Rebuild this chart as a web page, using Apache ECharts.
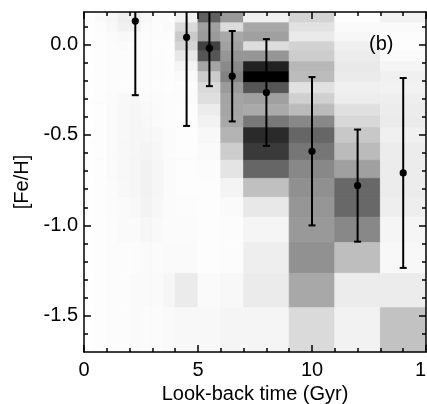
<!DOCTYPE html>
<html><head><meta charset="utf-8">
<script src="https://cdn.jsdelivr.net/npm/echarts@6/dist/echarts.min.js"></script>
<style>html,body{margin:0;padding:0;background:#fff}#c{width:427px;height:404px}</style>
</head><body><div id="c"></div>
<script>
// Bin edges (look-back time, Gyr) and [Fe/H] bin edges (top -> bottom)
const ageEdges = [0, 0.5, 1, 1.5, 2, 2.5, 3, 3.5, 4, 5, 6, 7, 9, 11, 13, 15];
const fehEdges = [0.18, 0.12, 0.07, 0.015, -0.035, -0.095, -0.15, -0.21, -0.27, -0.33,
                  -0.395, -0.46, -0.545, -0.64, -0.74, -0.845, -0.955, -1.095, -1.265, -1.455, -1.70];
// Relative density (0..255) per age bin, rows from top [Fe/H] bin to bottom
const density = [
  [1,1,1,1,1,1,1,1,1,1,1,1,1,1,1,1,1,1,1,1],
  [5,3,2,2,2,2,2,2,2,2,2,2,2,2,2,2,2,2,2,2],
  [9,7,4,3,3,3,3,3,4,5,5,5,5,5,4,4,3,3,3,3],
  [17,15,7,4,3,3,3,3,7,7,7,7,7,7,7,5,5,3,3,3],
  [19,15,5,3,3,3,3,3,8,9,9,9,9,9,9,7,5,3,5,5],
  [7,5,3,3,3,3,3,3,5,6,7,9,11,13,13,12,9,5,5,4],
  [3,3,3,3,3,3,3,3,4,5,5,7,8,9,9,8,6,4,5,4],
  [3,5,3,2,2,2,2,2,3,3,3,4,4,4,4,4,4,5,9,5],
  [13,37,53,43,23,10,5,3,3,2,2,2,2,2,2,3,4,5,20,7],
  [159,95,100,191,170,90,51,37,33,19,13,7,5,3,2,2,2,2,5,7],
  [101,35,87,93,105,117,125,100,90,90,87,75,50,27,11,5,3,3,7,10],
  [15,87,95,34,105,221,255,170,95,85,135,213,197,153,63,23,10,17,20,10],
  [43,29,21,45,50,71,67,30,47,68,119,153,137,119,111,105,102,110,87,37],
  [2,5,8,15,19,22,20,15,18,31,39,55,68,95,151,151,119,65,19,13],
  [13,5,3,3,5,10,15,13,17,19,20,15,19,19,19,17,10,7,19,61]
];
// Mean metallicity with error bars
const pointAge = [2.25, 4.5, 5.5, 6.5, 8.0, 10.0, 12.0, 14.0];
const pointFeh = [0.13, 0.04, -0.02, -0.175, -0.265, -0.59, -0.78, -0.71];
const pointErr = [0.41, 0.49, 0.21, 0.25, 0.295, 0.41, 0.31, 0.525];
// Axis ticks
const yMajorTicks = [-1.5, -1.0, -0.5, 0.0];
const yMinorTicks = [-1.6, -1.4, -1.3, -1.2, -1.1, -0.9, -0.8, -0.7, -0.6, -0.4, -0.3, -0.2, -0.1, 0.1];
const X_MIN = 0, X_MAX = 15, X_STEP = 5;
const Y_MIN = -1.7, Y_MAX = 0.18;

const cells = [];
for (let i = 0; i < density.length; i++) {
  for (let j = 0; j < density[i].length; j++) {
    cells.push([ageEdges[i], ageEdges[i + 1], fehEdges[j + 1], fehEdges[j], density[i][j]]);
  }
}
const points = pointAge.map((a, k) => [a, pointFeh[k], pointErr[k]]);

const FONT = 'Liberation Sans';
const FS = 20;
const lineBlack = {color: '#000', width: 1.5};
function xAxis(pos, labels) {
  return {
    type: 'value', position: pos, min: X_MIN, max: X_MAX, interval: X_STEP, z: 10,
    axisLine: {show: true, onZero: false, lineStyle: lineBlack},
    axisTick: {show: true, inside: true, length: 7, lineStyle: lineBlack},
    minorTick: {show: true, splitNumber: 5, length: 4, lineStyle: lineBlack},
    splitLine: {show: false}, minorSplitLine: {show: false},
    axisLabel: {show: labels, margin: 8, color: '#000', fontFamily: FONT, fontSize: FS, showMaxLabel: true, showMinLabel: true},
    name: labels ? 'Look-back time (Gyr)' : '', nameLocation: 'middle', nameGap: 24,
    nameTextStyle: {color: '#000', fontFamily: FONT, fontSize: FS, verticalAlign: 'top'}
  };
}
function yAxis(pos, ticks, len, labels, line) {
  return {
    type: 'value', position: pos, min: Y_MIN, max: Y_MAX, z: 10,
    axisLine: {show: line, onZero: false, lineStyle: lineBlack},
    axisTick: {show: true, inside: true, length: len, customValues: ticks, lineStyle: lineBlack},
    splitLine: {show: false},
    axisLabel: {show: labels, customValues: ticks, margin: 6, color: '#000', fontFamily: FONT, fontSize: FS,
      formatter: v => v.toFixed(1)},
    name: labels ? '[Fe/H]' : '', nameLocation: 'middle', nameGap: 46, nameRotate: 90,
    nameTextStyle: {color: '#000', fontFamily: FONT, fontSize: FS}
  };
}

const chart = echarts.init(document.getElementById('c'), null, {renderer: 'canvas'});
chart.setOption({
  animation: false,
  backgroundColor: '#fff',
  grid: {left: 84, right: 1, top: 12, bottom: 52, containLabel: false, outerBoundsMode: 'none'},
  xAxis: [xAxis('bottom', true), xAxis('top', false)],
  yAxis: [
    yAxis('left', yMajorTicks, 7, true, true),
    yAxis('left', yMinorTicks, 4, false, false),
    yAxis('right', yMajorTicks, 7, false, true),
    yAxis('right', yMinorTicks, 4, false, false)
  ],
  graphic: [{type: 'text', left: 369, top: 34, z: 20,
    style: {text: '(b)', fill: '#000', font: '20px "Liberation Sans"'}}],
  series: [
    {
      type: 'custom', xAxisIndex: 0, yAxisIndex: 0, z: 1, clip: true,
      data: cells,
      renderItem: function (params, api) {
        const p0 = api.coord([api.value(0), api.value(3)]);
        const p1 = api.coord([api.value(1), api.value(2)]);
        const g = Math.round(255 - api.value(4));
        const col = 'rgb(' + g + ',' + g + ',' + g + ')';
        return {type: 'rect', shape: {x: p0[0], y: p0[1], width: p1[0] - p0[0], height: p1[1] - p0[1]},
          style: {fill: col, stroke: col, lineWidth: 0.8}};
      }
    },
    {
      type: 'custom', xAxisIndex: 0, yAxisIndex: 0, z: 5, clip: true,
      data: points,
      renderItem: function (params, api) {
        const cs = params.coordSys;
        const x = api.value(0), y = api.value(1), e = api.value(2);
        const c = api.coord([x, y]);
        const t = api.coord([x, y + e]);
        const b = api.coord([x, y - e]);
        const yTop = Math.max(t[1], cs.y), yBot = Math.min(b[1], cs.y + cs.height);
        const st = {stroke: '#000', lineWidth: 2};
        const ch = [{type: 'line', shape: {x1: c[0], y1: yTop, x2: c[0], y2: yBot}, style: st}];
        const w = 3.5;
        if (t[1] >= cs.y) ch.push({type: 'line', shape: {x1: c[0] - w, y1: t[1], x2: c[0] + w, y2: t[1]}, style: st});
        if (b[1] <= cs.y + cs.height) ch.push({type: 'line', shape: {x1: c[0] - w, y1: b[1], x2: c[0] + w, y2: b[1]}, style: st});
        ch.push({type: 'circle', shape: {cx: c[0], cy: c[1], r: 3.6}, style: {fill: '#000'}});
        return {type: 'group', children: ch};
      }
    }
  ]
});
</script></body></html>
